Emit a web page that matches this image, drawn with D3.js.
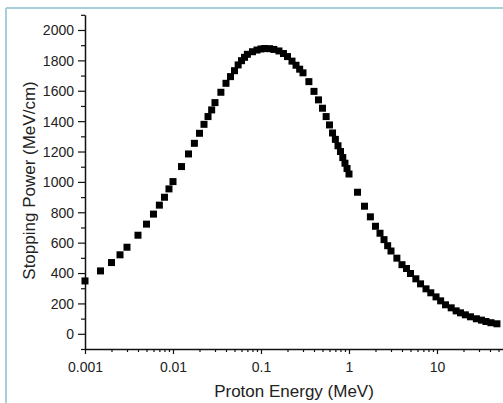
<!DOCTYPE html>
<html>
<head>
<meta charset="utf-8">
<script src="https://cdn.jsdelivr.net/npm/d3@7/dist/d3.min.js"></script>
<style>
  html, body { margin: 0; padding: 0; background: #fff; }
  svg { display: block; }
  text { font-family: "Liberation Sans", Arial, sans-serif; fill: #222; }
</style>
</head>
<body>
<svg id="chart" width="503" height="403"></svg>
<script>
// ---- data ----
const energy = [
  0.001, 0.0015, 0.002, 0.0025, 0.003, 0.004, 0.005, 0.006, 0.007, 0.008, 0.009,
  0.01, 0.0125, 0.015, 0.0175, 0.02, 0.0225, 0.025, 0.0275, 0.03, 0.035, 0.04,
  0.045, 0.05, 0.055, 0.06, 0.065, 0.07, 0.08, 0.09, 0.1, 0.11, 0.125, 0.14,
  0.16, 0.18, 0.2, 0.225, 0.25, 0.275, 0.3, 0.35, 0.4, 0.45, 0.5, 0.55, 0.6,
  0.65, 0.7, 0.75, 0.8, 0.85, 0.9, 0.95, 1.0, 1.25, 1.5, 1.75, 2.0, 2.25, 2.5,
  2.75, 3.0, 3.5, 4.0, 4.5, 5.0, 5.75, 6.5, 7.5, 8.5, 9.75, 11, 12.5, 14.5,
  16.5, 18.5, 21, 24, 28, 32, 36, 41, 48
];
const stoppingPower = [
  348, 414, 469, 520, 570, 649, 722, 788, 847, 899, 954,
  1002, 1101, 1184, 1254, 1320, 1379, 1430, 1474, 1522, 1590, 1649,
  1693, 1732, 1770, 1798, 1820, 1840, 1857, 1868, 1875, 1878, 1877, 1872,
  1862, 1845, 1825, 1795, 1768, 1742, 1718, 1660, 1596, 1540, 1485, 1430, 1375,
  1322, 1280, 1238, 1200, 1160, 1123, 1088, 1052, 932, 840, 770, 708, 662, 620,
  580, 545, 498, 455, 430, 397, 362, 329, 296, 270, 243, 217, 191, 171,
  151, 138, 125, 112, 99, 90, 81, 73, 66
];
const xTickValues = [0.001, 0.01, 0.1, 1, 10];
const xTickLabels = ["0.001", "0.01", "0.1", "1", "10"];
const yTickValues = [0, 200, 400, 600, 800, 1000, 1200, 1400, 1600, 1800, 2000];
const yMinorValues = [-100, 100, 300, 500, 700, 900, 1100, 1300, 1500, 1700, 1900, 2100];
const xTitle = "Proton Energy (MeV)";
const yTitle = "Stopping Power (MeV/cm)";

// ---- layout ----
const svg = d3.select("#chart");
const mLeft = 85, mBottom = 349, mTop = 14.8, mRight = 503;

const x = d3.scaleLog().domain([0.001, Math.pow(10, 1.75)]).range([mLeft, mRight]);
const y = d3.scaleLinear().domain([-100, 2100]).range([mBottom, mTop]);

// frame (light blue)
svg.append("line").attr("x1", 6).attr("x2", 6).attr("y1", 8).attr("y2", 403)
  .attr("stroke", "#a6cfda").attr("stroke-width", 2);
svg.append("line").attr("x1", 6).attr("x2", 503).attr("y1", 8).attr("y2", 8)
  .attr("stroke", "#a6cfda").attr("stroke-width", 2);

// minor x ticks
const xMinor = [];
xTickValues.forEach(d => { for (let k = 2; k <= 9; k++) { const v = d * k; if (v <= x.domain()[1]) xMinor.push(v); } });

const gxMinor = svg.append("g").attr("transform", `translate(0,${mBottom})`)
  .call(d3.axisBottom(x).tickValues(xMinor).tickSize(3).tickSizeOuter(0).tickFormat(""));
gxMinor.select(".domain").remove();

const gx = svg.append("g").attr("transform", `translate(0,${mBottom})`)
  .call(d3.axisBottom(x).tickValues(xTickValues).tickSize(5).tickSizeOuter(0)
    .tickFormat((d, i) => xTickLabels[i]));
gx.selectAll("text").attr("y", 23).attr("dy", 0).style("font-size", "14px");

// y axis
const gyMinor = svg.append("g").attr("transform", `translate(${mLeft},0)`)
  .call(d3.axisLeft(y).tickValues(yMinorValues).tickSize(4).tickSizeOuter(0).tickFormat(""));
gyMinor.select(".domain").remove();

const gy = svg.append("g").attr("transform", `translate(${mLeft},0)`)
  .call(d3.axisLeft(y).tickValues(yTickValues).tickSize(7).tickSizeOuter(0).tickFormat(d3.format("d")));
gy.selectAll("text").attr("x", -11).attr("dy", "0.35em").style("font-size", "14px");

svg.selectAll(".domain").attr("stroke", "#111").attr("stroke-width", 1.5);
svg.selectAll(".tick line").attr("stroke", "#111").attr("stroke-width", 1.2);
svg.selectAll(".tick text").attr("fill", "#222").style("font-family", "'Liberation Sans', Arial, sans-serif");

// titles
svg.append("text").attr("x", 294).attr("y", 397).attr("text-anchor", "middle")
  .style("font-size", "17px").text(xTitle);
svg.append("text").attr("transform", "translate(35,180.5) rotate(-90)")
  .attr("text-anchor", "middle").style("font-size", "17px").text(yTitle);

// points
const pts = energy.map((e, i) => ({ e, s: stoppingPower[i] }));
const sz = 7;
svg.append("g").selectAll("rect").data(pts).join("rect")
  .attr("x", d => x(d.e) - sz / 2)
  .attr("y", d => y(d.s) - sz / 2)
  .attr("width", sz).attr("height", sz)
  .attr("fill", "#000");
</script>
</body>
</html>
